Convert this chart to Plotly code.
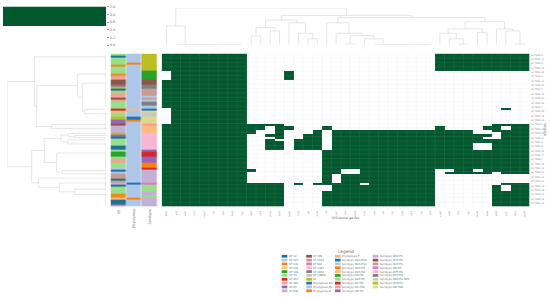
import plotly.graph_objects as go

W, H = 550, 299
GREEN = "#03592f"
FONT = "DejaVu Sans"
TXT = "#6a6a6a"

genes = ["fimH","gad","terC","traT","ompT","iss","sitA","fyuA","irp2","iucC","iutA","chuA","kpsE",
         "papC","hlyF","sat","senB","cia","cvaC","iha","mchF","cma","usp","vat","tsh","lpfA",
         "astA","air","eilA","capU","celb","hra","pic","neuC","ibeA","afaD","cnf1","hlyA","papA"]

isolates = ["HI TRN2 5","HI TRN2 14","HI TRN2 9","HI TRN2 22","HI TRN2 30","HI TRN2 3","HI TRN2 11",
            "HI TRN2 27","HI TRN2 1","HI TRN2 18","HI TRN2 25","HI TRN2 33","HI TRN2 7","HI TRN2 20",
            "HI TRN2 16","HI TRN2 29","HI TRN2 2","HI TRN2 12","HI TRN2 35","HI TRN2 24","HI TRN2 6",
            "HI TRN2 8","HI TRN2 31","HI TRN2 17","HI TRN2 4","HI TRN2 26","HI TRN2 10","HI TRN2 34",
            "HI TRN2 13","HI TRN2 21","HI TRN2 19","HI TRN2 28","HI TRN2 15","HI TRN2 32","HI TRN2 23"]

# gene presence: per gene, the [first, last) isolate rows in which it is found
n_rows = 70
full = [(0, 70)]
top = (0, 8)
presence = [
    [(0, 8), (12, 25), (32, 70)], full, full, full, full, full, full, full, full,
    [(32, 37), (53, 54), (59, 70)],
    [(32, 35), (59, 70)],
    [(32, 33), (37, 38), (39, 44), (59, 70)],
    [(32, 39), (40, 44), (59, 70)],
    [(8, 12), (33, 35)],
    [(39, 44), (59, 60)],
    [(37, 44)],
    [(35, 44), (59, 60)],
    [(33, 35), (44, 60), (63, 70)],
    [(35, 55), (59, 70)],
    [(35, 53), (55, 70)],
    [(35, 53), (55, 70)],
    [(35, 59), (60, 70)],
    [(35, 70)], [(35, 70)], [(35, 70)], [(35, 70)], [(35, 70)], [(35, 70)], [(35, 70)],
    [top, (33, 53)],
    [top, (35, 53), (54, 55)],
    [top, (35, 55)],
    [top, (35, 55)],
    [top, (37, 41), (44, 53), (54, 55)],
    [top, (33, 35), (37, 38), (39, 41), (44, 55)],
    [top, (32, 36), (39, 54), (60, 70)],
    [top, (25, 26), (32, 33), (35, 55), (59, 60), (63, 70)],
    [top, (32, 55), (59, 70)],
    [top, (32, 55), (59, 70)],
]

legend_st = [("ST 12","#1c7399"),("ST 127","#aec7e8"),("ST 131","#ed8a1f"),("ST 141","#ffbb78"),
             ("ST 144","#2ca02c"),("ST 73","#98df8a"),("ST 457","#d62728"),("ST 405","#efa595"),
             ("ST 69","#9467bd"),("ST 648","#c5b0d5"),("ST 106","#8c564b"),("ST 1193","#c49c94"),
             ("ST 681","#e377c2"),("ST 1431","#f7b6d2"),("ST 2659","#7f7f7f"),("ST 13860","#c7c7c7"),
             ("ST","#bcbd22")]
legend_phylo = [("Phylogroup B1","#1f77b4"),("Phylogroup B2","#aec7e8"),("Phylogroup D","#ff7f0e"),
                ("Phylogroup F","#e7bd95")]
legend_sero = [("Serotype O15:H18","#1f77b4"),("Serotype O15:H33","#aec7e8"),("Serotype O15:H5","#ff7f0e"),
               ("Serotype O25:H4","#ffbb78"),("Serotype O4:H5","#2ca02c"),("Serotype O25:H5","#98df8a"),
               ("Serotype O1:H4","#d62728"),("Serotype O1:H45","#ff9896"),("Serotype O6:H1","#9467bd"),
               ("Serotype O16:H5","#c5b0d5"),("Serotype O75:H5","#8c564b"),("Serotype O25:H1","#c49c94"),
               ("Serotype O6:H5","#e377c2"),("Serotype O75:H1","#f7b6d2"),("Serotype O75:H4","#7f7f7f"),
               ("Serotype O83:H1 O25","#c7c7c7"),("Serotype O50:H1","#bcbd22"),("Serotype O8:H16","#dbdb8d")]

st_runs = [("ST 73",1),("ST 12",1),("ST 73",3),("ST 131",1),("ST 73",3),("ST 131",1),("ST 405",2),
           ("ST 106",2),("ST 69",1),("ST",1),("ST 12",1),("ST 73",1),("ST 405",2),("ST 106",1),
           ("ST 405",1),("ST 73",3),("ST 457",1),("ST 141",1),("ST 73",2),("ST",1),("ST 69",2),
           ("ST 106",1),("ST 648",3),("ST",1),("ST 69",1),("ST 12",1),("ST 73",3),("ST 12",2),
           ("ST 73",1),("ST 144",2),("ST 73",1),("ST 405",2),("ST 73",2),("ST 127",1),("ST 12",1),
           ("ST 127",1),("ST 1193",2),("ST 12",1),("ST 1193",1),("ST 648",1),("ST 12",1),("ST 73",3),
           ("ST 131",2),("ST 141",1),("ST 12",2),("ST 681",1)]
phylo_runs = [("Phylogroup B2",4),("Phylogroup D",1),("Phylogroup B2",20),("Phylogroup F",1),
              ("Phylogroup B2",3),("Phylogroup B1",1),("Phylogroup D",1),("Phylogroup B2",28),
              ("Phylogroup B1",1),("Phylogroup B2",6),("Phylogroup D",1),("Phylogroup B2",3)]
sero_runs = [("Serotype O50:H1",8),("Serotype O4:H5",4),("Serotype O75:H5",2),("Serotype O75:H4",2),
             ("Serotype O25:H1",3),("Serotype O15:H33",1),("Serotype O25:H1",1),("Serotype O15:H33",1),
             ("Serotype O75:H4",2),("Serotype O15:H33",1),("Serotype O15:H18",1),("Serotype O8:H16",1),
             ("Serotype O83:H1 O25",2),("Serotype O8:H16",3),("Serotype O1:H45",1),("Serotype O25:H4",3),
             ("Serotype O75:H1",8),("Serotype O6:H1",1),("Serotype O1:H4",2),("Serotype O6:H1",3),
             ("Serotype O15:H5",2),("Serotype O1:H4",1),("Serotype O16:H5",6),("Serotype O6:H5",1),
             ("Serotype O25:H5",3),("Serotype O16:H5",2),("Serotype O25:H5",1),("Serotype O16:H5",4)]

def chain(a, b):
    """zero-distance cluster of consecutive leaves, nested to the right"""
    node = b
    for i in range(b - 1, a - 1, -1):
        node = (0, i, node)
    return node

# clustering of genes: (distance, left, right)
gene_tree = (37.3,
    (19, 0, chain(1, 8)),
    (29.7,
        (25,
            (17.3, (9, 9, 10), (14, 11, 12)),
            (22.3, 13, (11.6, 14, (6, 15, 16)))),
        (27.6,
            (22.3, 17, (11.6, 18, (9.3, (0.8, 19, 20), (6, 21, chain(22, 28))))),
            (23.3,
                (16, (11.6, 29, (6, 30, (0.5, 31, 32))), (12.6, 33, 34)),
                (16, 35, (14, 36, (0.5, 37, 38)))))))

# clustering of isolates: (distance, upper, lower)
iso_tree = (98.7,
    (71.7,
        chain(0, 7),
        (69.3,
            (28.3, chain(8, 11), (23.7, chain(12, 24), (21.7, 25, chain(26, 31)))),
            (54.3, 32, chain(33, 35)))),
    (74.3,
        (61.7,
            (45, (37.7, 36, (31.3, 37, 38)), (38.3, 39, chain(40, 43))),
            (49.3, chain(44, 52), (43.7, 53, (0.5, 54, 55)))),
        (67.3,
            (0.5, 56, 57),
            (46.7, (0.5, 58, (0.5, 59, 60)), (31.3, (0.5, 61, 62), chain(63, 69))))))

def walk(node, pos_out, dist_out):
    if not isinstance(node, tuple):
        return float(node), 0.0
    d, a, b = node
    pa, da = walk(a, pos_out, dist_out)
    pb, db = walk(b, pos_out, dist_out)
    pos_out += [pa, pa, pb, pb, None]
    dist_out += [da, d, d, db, None]
    return (pa + pb) / 2, d

def expand(runs):
    out = []
    for name, k in runs:
        out += [name] * k
    assert len(out) == n_rows
    return out

matrix = [[0] * len(genes) for _ in range(n_rows)]
for c, spans in enumerate(presence):
    for a, b in spans:
        for r in range(a, b):
            matrix[r][c] = 1

palette = legend_st + legend_phylo + legend_sero
index = {}
for i, (n, _) in enumerate(palette):
    index[n] = i
m = len(palette)
bar_scale = []
for i, (_, col) in enumerate(palette):
    bar_scale += [[i / m, col], [(i + 1) / m, col]]
bars = list(zip(expand(st_runs), expand(phylo_runs), expand(sero_runs)))
bar_z = [[index[v] for v in row] for row in bars]

def fx(p): return p / W
def fy(p): return 1 - p / H

HM_L, HM_R, HM_T, HM_B = 161.7, 529.4, 52.3, 207.3

fig = go.Figure()
fig.add_trace(go.Heatmap(z=matrix, colorscale=[[0, "#ffffff"], [1, GREEN]], zmin=0, zmax=1,
                         showscale=False, xaxis="x", yaxis="y"))
fig.add_trace(go.Heatmap(z=bar_z, colorscale=bar_scale, zmin=0, zmax=m - 1e-6, showscale=False,
                         xgap=0.5, xaxis="x2", yaxis="y2"))
px, pd = [], []
walk(gene_tree, px, pd)
fig.add_trace(go.Scatter(x=px, y=pd, mode="lines", line=dict(color="#dadada", width=0.7),
                         cliponaxis=False, showlegend=False, xaxis="x3", yaxis="y3"))
qr, qd = [], []
walk(iso_tree, qr, qd)
fig.add_trace(go.Scatter(x=qd, y=qr, mode="lines", line=dict(color="#dadada", width=0.7),
                         cliponaxis=False, showlegend=False, xaxis="x4", yaxis="y4"))
fig.add_trace(go.Heatmap(z=[[0], [1]], y=[0, 1], x=[0], colorscale=[[0, "#ffffff"], [1, GREEN]],
                         showscale=False, xaxis="x5", yaxis="y5"))

hide = dict(visible=False, showgrid=False, zeroline=False, fixedrange=True)
tickf = dict(family=FONT, size=2.3, color="#8a8a8a")
layout = dict(
    width=W, height=H, autosize=False, margin=dict(l=0, r=0, t=0, b=0),
    paper_bgcolor="white", plot_bgcolor="white", showlegend=False,
    font=dict(family=FONT),
    xaxis=dict(domain=[fx(HM_L), fx(HM_R)], range=[-0.5, 38.5], anchor="y", tickmode="array",
               tickvals=list(range(len(genes))), ticktext=genes, tickangle=-90, tickfont=tickf,
               ticks="outside", ticklen=2.5, tickwidth=0.3, tickcolor="rgba(0,0,0,0)", showgrid=False,
               zeroline=False, showline=False),
    yaxis=dict(domain=[fy(HM_B), fy(HM_T)], range=[69.5, -0.5], anchor="x", side="right", tickmode="array",
               tickvals=list(range(0, n_rows, 2)), ticktext=isolates, tickfont=tickf,
               ticks="outside", ticklen=0.5, tickwidth=0.3, tickcolor="rgba(0,0,0,0)", showgrid=False,
               zeroline=False, showline=False),
    xaxis2=dict(domain=[fx(110.5), fx(157.5)], range=[-0.5, 2.5], anchor="y2", **hide),
    yaxis2=dict(domain=[fy(HM_B), fy(HM_T)], range=[69.5, -0.5], anchor="x2", **hide),
    xaxis3=dict(domain=[fx(HM_L), fx(HM_R)], range=[-0.5, 38.5], anchor="y3", **hide),
    yaxis3=dict(domain=[fy(43.3), fy(6)], range=[0, 37.3], anchor="x3", **hide),
    xaxis4=dict(domain=[fx(7.3), fx(106)], range=[98.7, 0], anchor="y4", **hide),
    yaxis4=dict(domain=[fy(HM_B), fy(HM_T)], range=[69.5, -0.5], anchor="x4", **hide),
    xaxis5=dict(domain=[fx(3), fx(106)], range=[-0.5, 0.5], anchor="y5", **hide),
    yaxis5=dict(domain=[fy(43.7), fy(4.7)], range=[0, 1], anchor="free", position=fx(106), side="right",
                tickmode="array", tickvals=[0, 0.2, 0.4, 0.6, 0.8, 1.0],
                ticktext=["0.0", "0.2", "0.4", "0.6", "0.8", "1.0"],
                tickfont=dict(family=FONT, size=3.4, color=TXT), ticks="outside", ticklen=2,
                tickwidth=0.4, tickcolor="#999999", showgrid=False, zeroline=False, showline=False),
)
fig.update_layout(**layout)

shapes = []
grid = dict(color="rgba(190,190,190,0.28)", width=0.35)
for c in range(len(genes) + 1):
    shapes.append(dict(type="line", xref="x", yref="y", x0=c - 0.5, x1=c - 0.5, y0=-0.5, y1=69.5,
                       line=grid, layer="above"))
for r in range(0, n_rows + 1, 2):
    shapes.append(dict(type="line", xref="x", yref="y", x0=-0.5, x1=38.5, y0=r - 0.5, y1=r - 0.5,
                       line=grid, layer="above"))

ann = []
def text(x, y, s, size, angle=0, xa="left", ya="middle", color=TXT):
    ann.append(dict(xref="paper", yref="paper", x=fx(x), y=fy(y), text=s, showarrow=False, textangle=angle,
                    xanchor=xa, yanchor=ya, font=dict(family=FONT, size=size, color=color),
                    borderpad=0, borderwidth=0))

text(118.5, 210, "ST", 3.4, -90, "center", "top")
text(134, 210, "Phylogroup", 3.4, -90, "center", "top")
text(149.7, 210, "Serotype", 3.4, -90, "center", "top")
text(345, 219, "Virulence genes", 3.4, 0, "center", "middle")
text(545, 130, "Isolates", 3.4, -90, "center", "middle")
text(346, 253, "Legend", 4.3, 0, "center", "middle")

legend_items = legend_st + legend_phylo + legend_sero
col_swatch = [281.7, 306.3, 335.0, 372.7]
col_text = [289.3, 312.7, 342.3, 380.0]
for i, (name, col) in enumerate(legend_items):
    c, r = (i // 10, i % 10)
    y = 257.7 + 3.89 * r
    shapes.append(dict(type="rect", xref="paper", yref="paper", x0=fx(col_swatch[c]), x1=fx(col_swatch[c] + 5.6),
                       y0=fy(y - 1.4), y1=fy(y + 1.4), fillcolor=col, line=dict(width=0)))
    text(col_text[c], y, name, 2.7)

fig.update_layout(shapes=shapes, annotations=ann)
fig.write_html("out.html", config=dict(displayModeBar=False),
               post_script="document.body.style.margin='0';document.body.style.overflow='hidden';")
